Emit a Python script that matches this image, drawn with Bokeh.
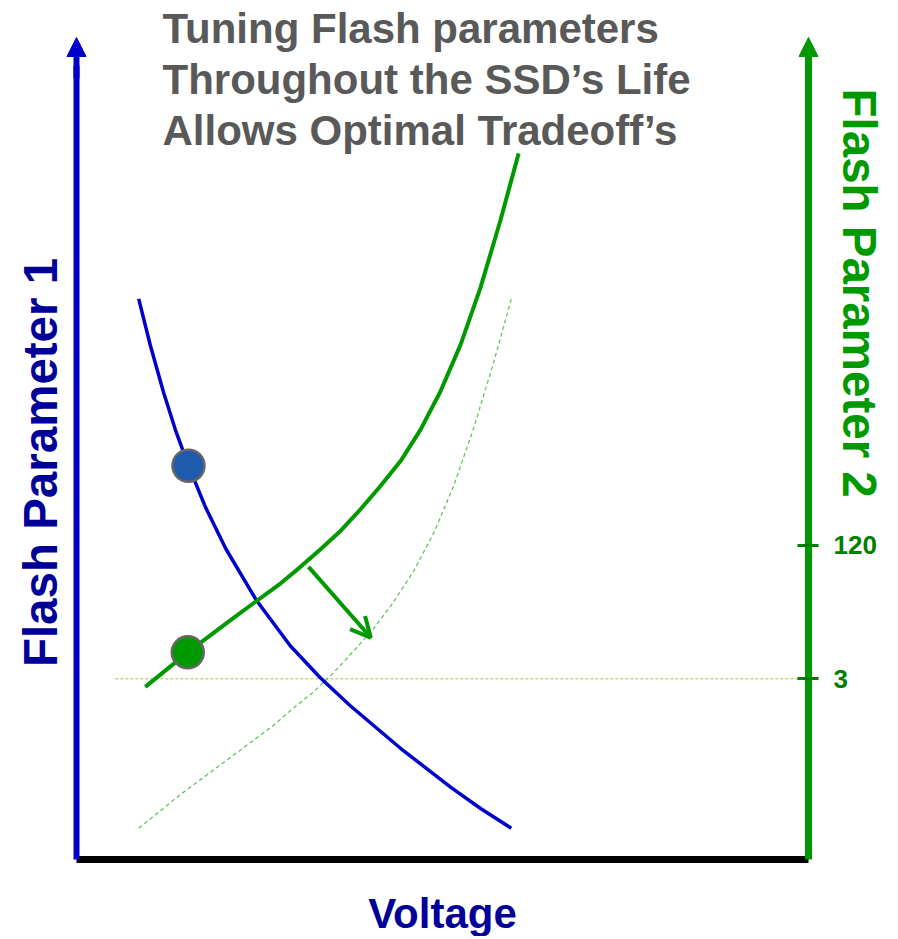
import math
from bokeh.plotting import figure
from bokeh.models import (Range1d, LinearAxis, FixedTicker, Arrow, NormalHead,
                          OpenHead, Label, ColumnDataSource, LogScale)
from bokeh.core.properties import value
from bokeh.embed import file_html
from bokeh.resources import INLINE

# ---------------- data ----------------
TITLE_LINES = ["Tuning Flash parameters",
               "Throughout the SSD\u2019s Life",
               "Allows Optimal Tradeoff\u2019s"]

# Flash Parameter 1 vs Voltage (blue)
VOLT_P1 = [0.85, 1.01, 1.19, 1.35, 1.53, 1.76, 2.04, 2.46, 2.92, 3.33, 3.74, 4.43, 5.11, 5.52, 5.94]
P1 = [6.82, 6.25, 5.68, 5.23, 4.79, 4.29, 3.78, 3.15, 2.60, 2.21, 1.87, 1.35, 0.88, 0.62, 0.38]

# Flash Parameter 2 vs Voltage, current (solid green)
VOLT_P2 = [0.94, 1.52, 2.10, 2.79, 3.06, 3.33, 3.61, 3.88, 4.15, 4.43, 4.70, 4.97, 5.25, 5.52, 5.79, 6.04]
P2 = [2.10, 2.52, 2.91, 3.36, 3.56, 3.77, 4.00, 4.26, 4.54, 4.85, 5.23, 5.69, 6.27, 6.96, 7.77, 8.59]

# Flash Parameter 2 vs Voltage, after tuning (dotted light green)
VOLT_P2_TUNED = [0.85, 1.42, 2.01, 2.69, 2.96, 3.24, 3.51, 3.78, 4.06, 4.33, 4.60, 4.88, 5.15, 5.42, 5.70, 5.94]
P2_TUNED = [0.38, 0.79, 1.18, 1.63, 1.84, 2.04, 2.27, 2.53, 2.81, 3.13, 3.50, 3.97, 4.54, 5.23, 6.05, 6.82]

# operating points
DOT_VOLT = [1.53, 1.52]
DOT_VAL = [4.79, 2.52]
DOT_COLORS = ["#1F5BAD", "#009900"]

# tuning arrow (start -> end)
SHIFT_FROM = (3.17, 3.56)
SHIFT_TO = (4.02, 2.70)

# right axis (Flash Parameter 2) tick values and their heights on the chart
P2_TICKS = [3, 120]
P2_TICK_Y = [2.20, 3.82]
P2_REF_LINE_X = [0.53, 10.0]

# axis geometry (data units)
X_RANGE = (-1.038, 11.12)
Y_RANGE = (-0.937, 10.45)
AX_X0, AX_X1 = 0.0, 10.0
AX_Y0, AX_TOP = 0.0, 10.0

BLUE = "#0000CC"
NAVY = "#000099"
GREEN = "#009900"
FONT = "Liberation Sans"

# log mapping for the right axis
k = (math.log10(P2_TICKS[1]) - math.log10(P2_TICKS[0])) / (P2_TICK_Y[1] - P2_TICK_Y[0])
def p2_of(y):
    return 10 ** (math.log10(P2_TICKS[0]) + (y - P2_TICK_Y[0]) * k)

p = figure(width=890, height=936, x_range=Range1d(*X_RANGE), y_range=Range1d(*Y_RANGE),
           x_axis_type=None, y_axis_type=None, toolbar_location=None,
           output_backend="svg", min_border=0, outline_line_color=None,
           background_fill_color="white", border_fill_color="white")
p.extra_y_ranges = {"p2": Range1d(p2_of(Y_RANGE[0]), p2_of(Y_RANGE[1]))}
p.extra_y_scales = {"p2": LogScale()}

# ---------------- axes ----------------
SHAFT_TOP = AX_TOP - 0.34
left = LinearAxis(fixed_location=AX_X0, bounds=(AX_Y0, SHAFT_TOP),
                  ticker=FixedTicker(ticks=[]), axis_label="Flash Parameter 1")
left.axis_line_color = BLUE
left.axis_line_width = 6
left.major_tick_line_color = None
left.minor_tick_line_color = None
left.major_label_text_font_size = "0px"
left.axis_label_text_font = FONT
left.axis_label_text_font_style = "bold"
left.axis_label_text_font_size = "47.5px"
left.axis_label_text_color = NAVY
left.axis_label_standoff = 10
p.add_layout(left, "left")

bottom = LinearAxis(fixed_location=AX_Y0, bounds=(AX_X0, AX_X1),
                    ticker=FixedTicker(ticks=[]), axis_label="Voltage")
bottom.axis_line_color = "black"
bottom.axis_line_width = 7
bottom.major_tick_line_color = None
bottom.minor_tick_line_color = None
bottom.major_label_text_font_size = "0px"
bottom.axis_label_text_font = FONT
bottom.axis_label_text_font_style = "bold"
bottom.axis_label_text_font_size = "42px"
bottom.axis_label_text_color = NAVY
bottom.axis_label_standoff = 30
p.add_layout(bottom, "below")

right = LinearAxis(y_range_name="p2", fixed_location=AX_X1,
                   bounds=(p2_of(AX_Y0), p2_of(SHAFT_TOP)),
                   ticker=FixedTicker(ticks=P2_TICKS, minor_ticks=[]))
right.axis_line_color = GREEN
right.axis_line_width = 7
right.major_tick_line_color = "#007F00"
right.major_tick_line_width = 3
right.major_tick_in = 11
right.major_tick_out = 10
right.minor_tick_line_color = None
right.major_label_standoff = 15
right.major_label_text_font = FONT
right.major_label_text_font_style = "bold"
right.major_label_text_font_size = "26px"
right.major_label_text_color = "#007F00"
p.add_layout(right, "right")

# axis arrow heads
p.add_layout(Arrow(x_start=AX_X0, y_start=AX_TOP - 0.5, x_end=AX_X0, y_end=AX_TOP,
                   line_color=BLUE, line_width=6,
                   end=NormalHead(size=19, fill_color=BLUE, line_color=BLUE, line_width=1)))
p.add_layout(Arrow(x_start=AX_X1, y_start=AX_TOP - 0.5, x_end=AX_X1, y_end=AX_TOP,
                   line_color=GREEN, line_width=7,
                   end=NormalHead(size=19, fill_color=GREEN, line_color=GREEN, line_width=1)))

# ---------------- marks ----------------
p.line(P2_REF_LINE_X, [P2_TICKS[0], P2_TICKS[0]], y_range_name="p2",
       line_color="#C2D878", line_width=1.5, line_dash="3 2")

p.line(VOLT_P2_TUNED, P2_TUNED, line_color="#66C266", line_width=1.3, line_dash="4 3")
p.line(VOLT_P1, P1, line_color=BLUE, line_width=3.5, line_join="round")
p.line(VOLT_P2, P2, line_color=GREEN, line_width=4, line_join="round")

p.add_layout(Arrow(x_start=SHIFT_FROM[0], y_start=SHIFT_FROM[1], x_end=SHIFT_TO[0], y_end=SHIFT_TO[1],
                   line_color=GREEN, line_width=4,
                   end=OpenHead(size=20, line_color=GREEN, line_width=4)))

p.scatter(DOT_VOLT, DOT_VAL, size=32, fill_color=DOT_COLORS, line_color="#666666", line_width=2.5)

# ---------------- texts ----------------
title_src = ColumnDataSource(dict(x=[1.175] * 3, y=[10.11, 9.49, 8.87], text=TITLE_LINES))
p.text(x="x", y="y", text="text", source=title_src, text_font=value(FONT),
       text_font_style="bold", text_font_size="42px", text_color="#595959",
       text_baseline="alphabetic", text_align="left")

p.add_layout(Label(x=10.70, y=6.89, text="Flash Parameter 2", angle=-math.pi / 2,
                   text_font=FONT, text_font_style="bold", text_font_size="47.5px",
                   text_color=GREEN, text_align="center", text_baseline="alphabetic"))

p.grid.visible = False

open("out.html", "w").write(file_html(p, INLINE))
